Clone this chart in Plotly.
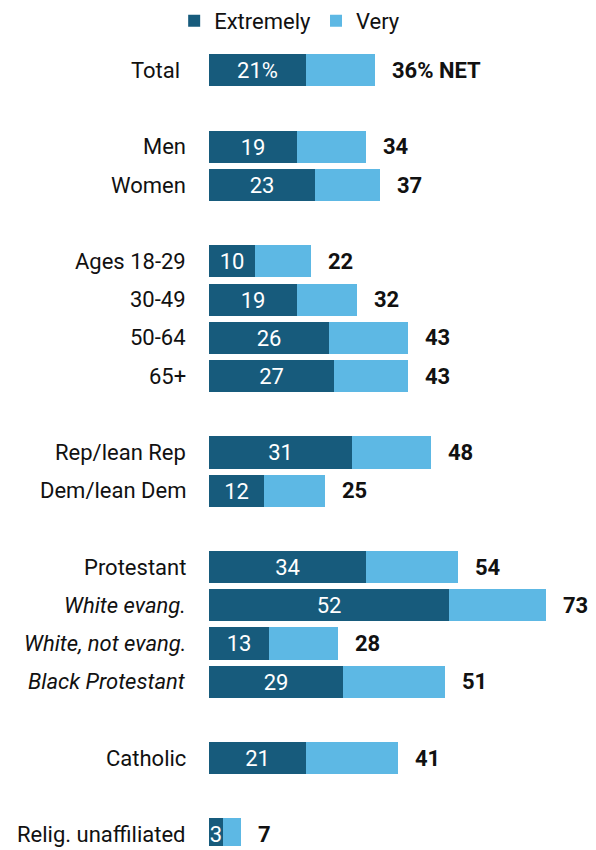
import plotly.graph_objects as go

categories = ["Total", "Men", "Women", "Ages 18-29", "30-49", "50-64", "65+",
              "Rep/lean Rep", "Dem/lean Dem", "Protestant", "White evang.",
              "White, not evang.", "Black Protestant", "Catholic", "Relig. unaffiliated"]
italic = [False, False, False, False, False, False, False,
          False, False, False, True, True, True, False, False]
row_pos = [0, 2, 3, 5, 6, 7, 8, 10, 11, 13, 14, 15, 16, 18, 20]
extremely = [21, 19, 23, 10, 19, 26, 27, 31, 12, 34, 52, 13, 29, 21, 3]
net = [36, 34, 37, 22, 32, 43, 43, 48, 25, 54, 73, 28, 51, 41, 7]
very = [n - e for n, e in zip(net, extremely)]
ext_labels = ["21%"] + [str(v) for v in extremely[1:]]
net_labels = ["36% NET"] + [str(v) for v in net[1:]]

DARK = "#175B7C"
LIGHT = "#5DB8E4"
FONT = "Roboto"
FS = 22

fig = go.Figure()
fig.add_trace(go.Bar(
    name="Extremely", y=row_pos, x=extremely, orientation="h",
    marker=dict(color=DARK, line=dict(width=0)), width=0.84,
    text=ext_labels, textposition="inside", insidetextanchor="middle",
    textfont=dict(color="white", size=FS, family=FONT), textangle=0,
    cliponaxis=False, hoverinfo="skip"))
fig.add_trace(go.Bar(
    name="Very", y=row_pos, x=very, orientation="h",
    marker=dict(color=LIGHT, line=dict(width=0)), width=0.84,
    hoverinfo="skip"))

annotations = []
for cat, it, y, n, nl in zip(categories, italic, row_pos, net, net_labels):
    label = f"<i>{cat}</i>" if it else cat
    annotations.append(dict(
        x=0, xref="paper", y=y, yref="y", text=label, showarrow=False,
        xanchor="right", yanchor="middle",
        xshift=-27 if cat == "Total" else -21,
        font=dict(size=FS, color="#111111", family=FONT)))
    annotations.append(dict(
        x=n, xref="x", y=y, yref="y", text=f"<b>{nl}</b>", showarrow=False,
        xanchor="left", yanchor="middle", xshift=15,
        font=dict(size=FS, color="#111111", family=FONT)))

fig.update_layout(
    barmode="stack",
    width=596, height=850,
    margin=dict(l=209, r=0, t=35, b=4),
    paper_bgcolor="white", plot_bgcolor="white",
    xaxis=dict(range=[0, 387 / 4.62], visible=False, fixedrange=True),
    yaxis=dict(range=[20.3, -0.9], visible=False, fixedrange=True),
    showlegend=True,
    legend=dict(orientation="h", x=-0.09, xanchor="left", y=1.0185, yanchor="middle",
                font=dict(size=FS, color="#111111", family=FONT),
                traceorder="normal", itemwidth=30, bgcolor="rgba(0,0,0,0)"),
    uniformtext=dict(minsize=FS, mode="show"),
    annotations=annotations,
    font=dict(family=FONT),
    bargap=0,
)

fig.write_html("out.html", config={"displayModeBar": False},
               post_script="document.body.style.margin='0';")
